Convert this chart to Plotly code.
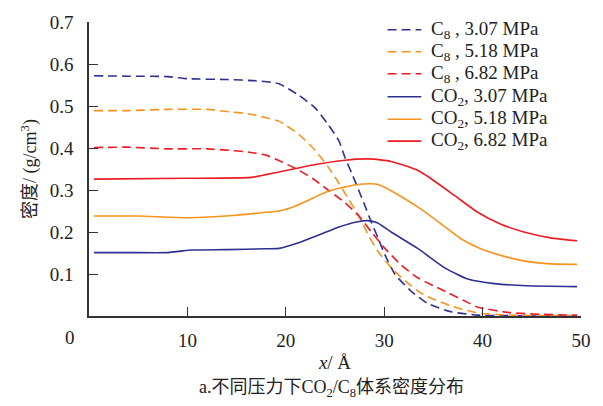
import plotly.graph_objects as go

# Density profiles across the CO2 / n-octane (C8) interface
x_c8_307 = [0.5, 4, 8, 10, 14, 17, 19.3, 21.3, 23, 24.3, 25.4, 26, 26.7, 27.4, 28.05, 28.7, 29.4, 30.07, 31.1, 32.7, 34.4, 36.8, 39.5, 42, 46, 49.6]
y_c8_307 = [0.572, 0.571, 0.570, 0.565, 0.563, 0.560, 0.553, 0.526, 0.495, 0.456, 0.417, 0.378, 0.34, 0.30, 0.262, 0.223, 0.184, 0.146, 0.099, 0.06, 0.03, 0.01, 0.002, 0.001, 0.0, 0.0]

x_c8_518 = [0.5, 4, 8, 12, 14, 16.3, 18, 19.3, 21.3, 23, 24.3, 25.4, 26.4, 27.4, 28.4, 29.4, 30.7, 32.1, 33.4, 34.4, 36.8, 39.5, 42, 45, 49.6]
y_c8_518 = [0.489, 0.489, 0.492, 0.492, 0.487, 0.481, 0.472, 0.464, 0.433, 0.394, 0.355, 0.316, 0.277, 0.239, 0.192, 0.153, 0.115, 0.084, 0.06, 0.046, 0.024, 0.007, 0.003, 0.001, 0.0]

x_c8_682 = [0.5, 4, 8, 12, 14, 16.3, 18, 19.3, 21, 22.7, 24.3, 26, 27.4, 28.7, 30.07, 31.7, 33.4, 35, 36.5, 38, 39.5, 42.8, 46, 49.6]
y_c8_682 = [0.401, 0.402, 0.398, 0.398, 0.395, 0.39, 0.383, 0.37, 0.351, 0.328, 0.30, 0.27, 0.239, 0.2, 0.161, 0.122, 0.091, 0.072, 0.055, 0.038, 0.021, 0.008, 0.004, 0.002]

x_co2_307 = [0.5, 4, 8, 9.5, 10.5, 14, 18, 19.3, 21.6, 23.6, 25.4, 27.2, 28.3, 29.3, 30.7, 33.4, 36.2, 38.5, 41.2, 44.5, 49.6]
y_co2_307 = [0.151, 0.151, 0.151, 0.155, 0.157, 0.158, 0.160, 0.161, 0.177, 0.195, 0.212, 0.224, 0.227, 0.222, 0.2, 0.161, 0.114, 0.088, 0.077, 0.072, 0.07]

x_co2_518 = [0.5, 5, 10, 15, 17.5, 19.3, 21, 24.3, 27, 28.7, 29.4, 31.1, 33.7, 35.8, 37.8, 39.8, 42.2, 44.5, 46.9, 49.6]
y_co2_518 = [0.238, 0.238, 0.234, 0.24, 0.246, 0.25, 0.262, 0.297, 0.312, 0.315, 0.313, 0.293, 0.255, 0.219, 0.184, 0.16, 0.142, 0.13, 0.124, 0.123]

x_co2_682 = [0.5, 10, 16.5, 19.3, 22.6, 26, 28.5, 30.7, 33.4, 34.7, 37.2, 39.5, 41.8, 44.2, 46.9, 49.6]
y_co2_682 = [0.326, 0.328, 0.33, 0.343, 0.359, 0.371, 0.374, 0.368, 0.347, 0.328, 0.286, 0.247, 0.219, 0.2, 0.186, 0.179]

x_ticks = [10, 20, 30, 40, 50]
y_ticks = [0.1, 0.2, 0.3, 0.4, 0.5, 0.6, 0.7]

BLUE = "#2e3192"
ORANGE = "#f7931e"
RED = "#ed1c24"
INK = "#222222"
SERIF = "Liberation Serif, DejaVu Serif, serif"
CJK = "Liberation Serif, Noto Sans CJK SC"
DASH = "9px,5px"

series = [
    ("C<sub>8</sub> , 3.07 MPa", x_c8_307, y_c8_307, BLUE, DASH),
    ("C<sub>8</sub> , 5.18 MPa", x_c8_518, y_c8_518, ORANGE, DASH),
    ("C<sub>8</sub> , 6.82 MPa", x_c8_682, y_c8_682, RED, DASH),
    ("CO<sub>2</sub>, 3.07 MPa", x_co2_307, y_co2_307, BLUE, "solid"),
    ("CO<sub>2</sub>, 5.18 MPa", x_co2_518, y_co2_518, ORANGE, "solid"),
    ("CO<sub>2</sub>, 6.82 MPa", x_co2_682, y_co2_682, RED, "solid"),
]

# plot area in pixels (used to place legend/caption in paper units)
L, R, T, B = 89, 18, 15, 90
W, H = 603, 406
PW, PH = W - L - R, H - T - B


def px_x(px):
    return (px - L) / PW


def px_y(py):
    return (H - B - py) / PH


fig = go.Figure()
for name, xs, ys, color, dash in series:
    fig.add_trace(go.Scatter(
        x=xs, y=ys, name=name, mode="lines", showlegend=False,
        line=dict(color=color, width=1.6, dash=dash, shape="spline", smoothing=0.5),
    ))

# compact legend: key line + label per series
row_y = [23, 45.5, 68, 91.5, 114.5, 137]
for (name, xs, ys, color, dash), ry in zip(series, row_y):
    fig.add_shape(type="line", xref="paper", yref="paper",
                  x0=px_x(390), x1=px_x(424), y0=px_y(ry), y1=px_y(ry),
                  line=dict(color=color, width=1.6, dash=dash))
    fig.add_annotation(xref="paper", yref="paper", x=px_x(432), y=px_y(ry),
                       xanchor="left", yanchor="middle", showarrow=False,
                       text=name, font=dict(family=SERIF, size=19, color=INK))

axis_common = dict(
    showline=True, linecolor="#333333", linewidth=1.6,
    ticks="inside", ticklen=9, tickwidth=1.4, tickcolor="#333333",
    showgrid=False, zeroline=False, mirror=False,
    tickfont=dict(family=SERIF, size=19, color=INK),
)

fig.update_layout(
    width=W, height=H,
    margin=dict(l=L, r=R, t=T, b=B),
    paper_bgcolor="white", plot_bgcolor="white",
    font=dict(family=SERIF, size=18, color=INK),
    xaxis=dict(range=[0, 50], tickvals=x_ticks, ticklabelstandoff=6,
               title=dict(text="<i>x</i>/ Å", font=dict(family=SERIF, size=19), standoff=6),
               **axis_common),
    yaxis=dict(range=[0, 0.7], tickvals=y_ticks, ticktext=[f"{v:.1f}" for v in y_ticks],
               ticklabelstandoff=10,
               title=dict(text="密度/ (g/cm<sup>3</sup>)", font=dict(family=CJK, size=18), standoff=8),
               **axis_common),
    showlegend=False,
)

# shared origin label and figure caption
fig.add_annotation(xref="paper", yref="paper", x=px_x(70), y=px_y(338),
                   xanchor="center", yanchor="middle", showarrow=False,
                   text="0", font=dict(family=SERIF, size=19, color=INK))
fig.add_annotation(xref="paper", yref="paper", x=px_x(333), y=px_y(390),
                   xanchor="center", yanchor="middle", showarrow=False,
                   text="a.不同压力下CO<sub>2</sub>/C<sub>8</sub>体系密度分布",
                   font=dict(family=CJK, size=18, color=INK))

fig.write_html("out.html")
